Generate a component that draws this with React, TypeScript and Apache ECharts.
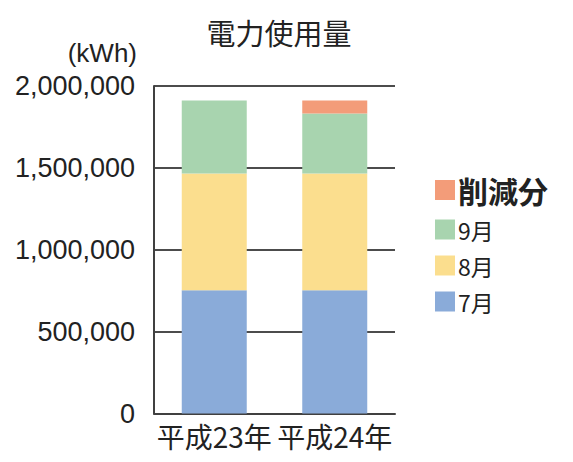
import React, { useEffect, useRef } from "react";
import * as echarts from "echarts";

const categories = ["平成23年", "平成24年"];
const july = [753000, 753000];
const august = [713000, 713000];
const september = [446000, 366000];
const reduction = [0, 80000];
const yTicks = [0, 500000, 1000000, 1500000, 2000000];

const FONT = "'Noto Sans CJK JP', 'Noto Sans', sans-serif";
const NUM_FONT = "'Liberation Sans', Arial, sans-serif";

export default function App() {
  const ref = useRef<HTMLDivElement>(null);
  useEffect(() => {
    if (!ref.current) return;
    const chart = echarts.init(ref.current, undefined, { renderer: "svg" });
    const barW = 65;
    chart.setOption({
      animation: false,
      textStyle: { fontFamily: FONT },
      title: {
        text: "電力使用量",
        left: 274,
        top: 12,
        textAlign: "center",
        textStyle: { fontSize: 29, fontWeight: "normal", color: "#222", fontFamily: FONT },
      },
      graphic: [
        {
          type: "text",
          right: 573 - 137,
          top: 40,
          style: { text: "(kWh)", fontSize: 26, fill: "#222", fontFamily: NUM_FONT },
        },
      ],
      legend: {
        orient: "vertical",
        left: 430,
        top: 170,
        itemWidth: 20,
        itemHeight: 20,
        itemGap: 13,
        icon: "rect",
        textStyle: { fontSize: 23, color: "#222", lineHeight: 20, padding: [0, 0, 0, -2] },
        data: [
          { name: "削減分", textStyle: { fontSize: 30, fontWeight: "bold", lineHeight: 20 } },
          { name: "9月" },
          { name: "8月" },
          { name: "7月" },
        ],
      },
      grid: { left: 154, right: 178, top: 86, bottom: 48.5 },
      xAxis: {
        type: "category",
        data: categories,
        axisLine: { lineStyle: { color: "#404040", width: 2 } },
        axisTick: { show: false },
        axisLabel: { fontSize: 28, color: "#222", margin: 8, interval: 0, fontFamily: FONT },
      },
      yAxis: {
        type: "value",
        min: yTicks[0],
        max: yTicks[yTicks.length - 1],
        interval: yTicks[1] - yTicks[0],
        axisLine: { show: true, lineStyle: { color: "#404040", width: 2 } },
        axisTick: { show: false },
        splitLine: { lineStyle: { color: "#111", width: 1.5 } },
        axisLabel: {
          fontSize: 27,
          color: "#222",
          margin: 19,
          fontFamily: NUM_FONT,
          formatter: (v: number) => v.toLocaleString("en-US"),
        },
      },
      series: [
        { name: "7月", type: "bar", stack: "a", data: july, barWidth: barW, itemStyle: { color: "#8AABD9" } },
        { name: "8月", type: "bar", stack: "a", data: august, barWidth: barW, itemStyle: { color: "#FBDE8E" } },
        { name: "9月", type: "bar", stack: "a", data: september, barWidth: barW, itemStyle: { color: "#A8D4AF" } },
        { name: "削減分", type: "bar", stack: "a", data: reduction, barWidth: barW, itemStyle: { color: "#F39C79" } },
      ],
    });
    return () => chart.dispose();
  }, []);
  return <div ref={ref} style={{ width: 573, height: 462, position: "absolute", left: 0, top: 0 }} />;
}
